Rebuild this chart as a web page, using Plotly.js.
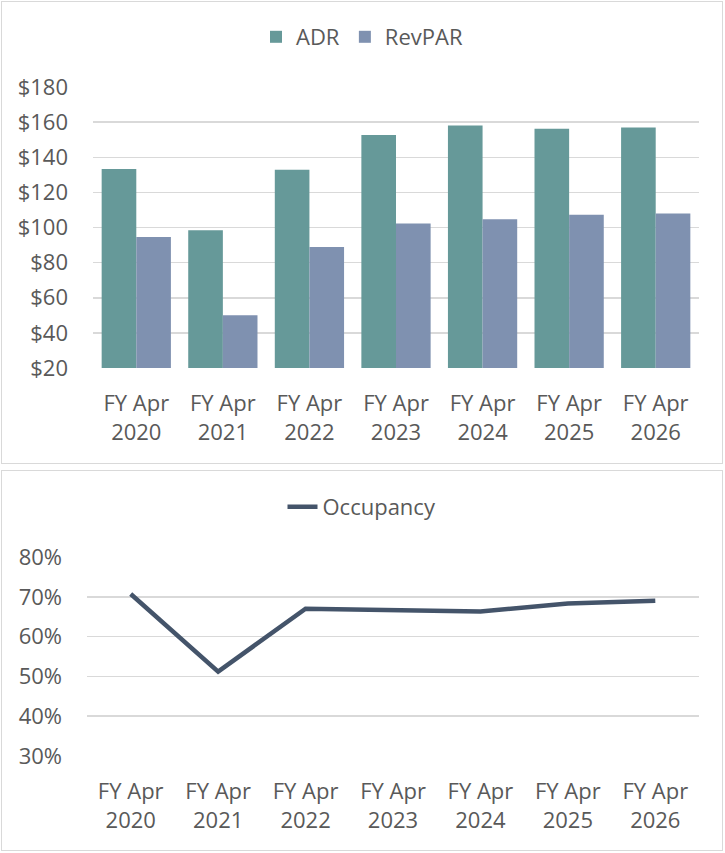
<!DOCTYPE html>
<html>
<head>
<meta charset="utf-8">
<script src="https://cdn.plot.ly/plotly-3.0.1.min.js"></script>
<style>
    body { margin: 0; background: #ffffff; }
    .box { position: absolute; left: 1px; width: 722px; box-sizing: border-box; border: 1px solid #d9d9d9; background: #ffffff; }
    #rateBox { top: 1px; height: 463px; }
    #occBox { top: 470px; height: 381px; }
    .box div.plot { width: 720px; height: 100%; }
</style>
</head>
<body>
<div class="box" id="rateBox"><div class="plot" id="ratePlot"></div></div>
<div class="box" id="occBox"><div class="plot" id="occPlot"></div></div>
<script>
let years = ["FY Apr<br>2020", "FY Apr<br>2021", "FY Apr<br>2022", "FY Apr<br>2023", "FY Apr<br>2024", "FY Apr<br>2025", "FY Apr<br>2026"]
let adr = [133.3, 98.5, 132.9, 152.6, 158.1, 156.2, 156.9]
let revpar = [94.6, 50.1, 88.9, 102.3, 104.7, 107.2, 108.0]
let occupancy = [70.7, 51.2, 67.0, 66.7, 66.3, 68.3, 69.0]

let textColor = "#595959"
let gridColor = "#d9d9d9"
let fontFamily = "'Open Sans', 'Noto Sans', sans-serif"
let fontSize = 22

let config = { displayModeBar: false, staticPlot: true }

function baseLayout(height, margin) {
    return {
        width: 720,
        height: height,
        margin: margin,
        paper_bgcolor: "#ffffff",
        plot_bgcolor: "#ffffff",
        font: { family: fontFamily, size: fontSize, color: textColor },
        showlegend: true,
        legend: {
            orientation: "h",
            xref: "container",
            x: 0.5,
            xanchor: "center",
            yref: "container",
            yanchor: "middle",
            itemwidth: 30,
            font: { size: fontSize, color: textColor }
        },
        xaxis: {
            type: "category",
            range: [-0.5, 6.5],
            showgrid: false,
            zeroline: false,
            showline: false,
            ticks: "",
            ticklabelstandoff: 20,
            tickfont: { size: fontSize, color: textColor }
        },
        yaxis: {
            showgrid: true,
            gridcolor: gridColor,
            gridwidth: 1.5,
            zeroline: false,
            showline: false,
            ticks: "",
            ticklabelstandoff: 24,
            tickfont: { size: fontSize, color: textColor }
        }
    }
}

// ADR / RevPAR bars
let adrTrace = {
    x: years,
    y: adr,
    name: "ADR",
    type: "bar",
    marker: { color: "#669999" }
}
let revparTrace = {
    x: years,
    y: revpar,
    name: "RevPAR",
    type: "bar",
    marker: { color: "#7f91b0" }
}

let rateLayout = baseLayout(461, { l: 91, r: 23, t: 85, b: 95 })
rateLayout.barmode = "group"
rateLayout.bargap = 0.2
rateLayout.bargroupgap = 0
rateLayout.legend.y = 1 - 35 / 461
rateLayout.yaxis.range = [20, 180]
rateLayout.yaxis.dtick = 20
rateLayout.yaxis.tickprefix = "$"
rateLayout.yaxis.layer = "below traces"

Plotly.newPlot("ratePlot", [adrTrace, revparTrace], rateLayout, config)

// occupancy line
let occTrace = {
    x: years,
    y: occupancy,
    name: "Occupancy",
    type: "scatter",
    mode: "lines",
    line: { color: "#44546a", width: 4.5 }
}

let occLayout = baseLayout(379, { l: 85, r: 23, t: 86, b: 94 })
occLayout.legend.y = 1 - 36 / 379
occLayout.yaxis.range = [30, 80]
occLayout.yaxis.dtick = 10
occLayout.yaxis.ticksuffix = "%"

Plotly.newPlot("occPlot", [occTrace], occLayout, config)
</script>
</body>
</html>
